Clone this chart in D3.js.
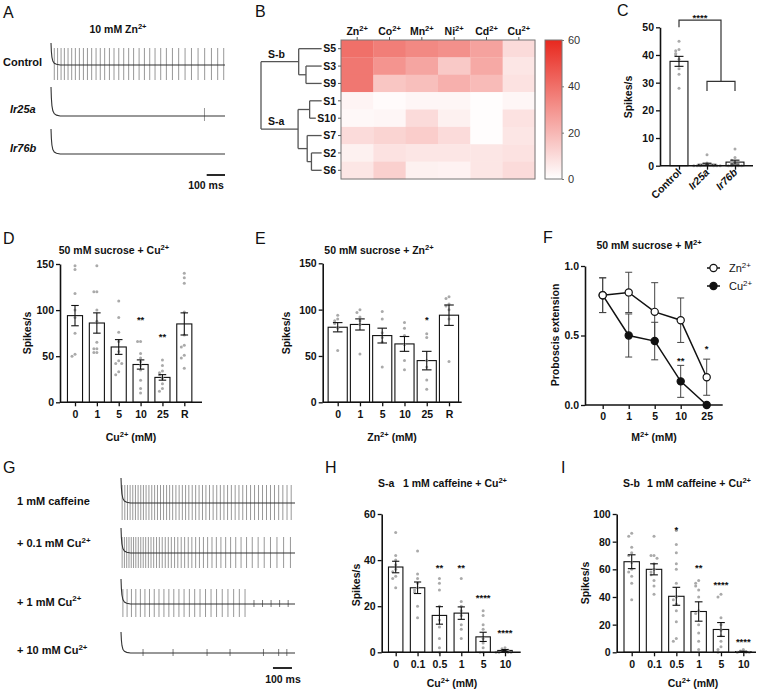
<!DOCTYPE html>
<html><head><meta charset="utf-8">
<script src="https://cdn.jsdelivr.net/npm/d3@7/dist/d3.min.js"></script>
<style>html,body{margin:0;padding:0;background:#fff;}svg{display:block;}</style>
</head><body>
<svg id="fig" width="764" height="691" xmlns="http://www.w3.org/2000/svg"></svg>
<script>
// ================= DATA =================
// Panel A
const aTitle = "10 mM Zn^2+";
const aLabels = ["Control", "Ir25a", "Ir76b"];
const aControlSpikes = [18,36,55,73,93,113,133,155,177,199,222,246,269,293,319,344,370,397,424,451,481,510,539,568,599,630,663,697,732,767,803,839,876,910,943];
const aIr25aSpikes = [838];
const aIr76bSpikes = [];
const artifactShape = [[0,1],[2,0.62],[5,0.36],[10,0.18],[18,0.08],[30,0.03],[50,0]];
const aTraceEnd = 950, aScaleBar = [850, 950];

// Panel B
const heatMetals = ["Zn","Co","Mn","Ni","Cd","Cu"];
const heatSensilla = ["S5","S3","S9","S1","S10","S7","S2","S6"];
const heatValues = [
  [40,36,33,31,26,10],
  [38,30,25,15,24,7],
  [38,16,18,22,19,8],
  [3,1,2.5,2.5,0.5,2.5],
  [2,2.5,10,4,0.5,8],
  [10,12,14,10,0.5,7],
  [4,8,7,7,7,8],
  [7,13,4,3.5,7,10]
];
const colorTicks = [0,20,40,60];
const dendroMerges = [
  {id:"n39", a:"S3", b:"S9", h:1.4},
  {id:"nb", a:"S5", b:"n39", h:2.0, label:"S-b"},
  {id:"n110", a:"S1", b:"S10", h:1.1},
  {id:"n26", a:"S2", b:"S6", h:0.95},
  {id:"n726", a:"S7", b:"n26", h:1.3},
  {id:"na", a:"n110", b:"n726", h:2.05, label:"S-a"},
  {id:"root", a:"nb", b:"na", h:5.1}
];

// Panel C
const cCats = ["Control","Ir25a","Ir76b"];
const cMean = [37.7, 0.5, 1.3];
const cSem = [1.8, 0.4, 0.7];
const cDots = [[45,42,41.5,40.5,40,38.5,35,33,28],[4,1,0.5,0.3,0,0,0,0,0,0],[6,3,2,1.2,0.5,0,0,0,0]];
const cTicks = [0,10,20,30,40,50];

// Panel D
const dCats = ["0","1","5","10","25","R"];
const dMean = [94, 86, 60, 41, 27, 85];
const dSem = [11, 11, 8, 5, 3, 12];
const dDots = [[148,144,118,100,92,75,52,50],[148,120,120,100,88,65,58,58,54,54],[110,92,76,66,55,45,42,42,33,30],[66,66,53,48,44,40,35,24,15,10],[46,40,34,32,30,26,20,15,12],[140,135,129,98,73,62,60,51,48,37]];
const dStars = ["","","","**","**",""];
const dStarAt = [0,0,0,92,74,0];
const dTicks = [0,50,100,150];

// Panel E
const eCats = ["0","1","5","10","25","R"];
const eMean = [81, 84, 72, 63, 45, 94];
const eSem = [5, 6, 8, 8, 10, 11];
const eDots = [[94,90,88,85,80,56],[100,97,92,88,84,52],[98,90,75,70,65,38],[86,80,72,62,45,35],[74,70,45,38,24,14],[114,112,106,104,100,90,44]];
const eStars = ["","","","","*",""];
const eStarAt = [0,0,0,0,91,0];
const eTicks = [0,50,100,150];

// Panel F
const fCats = ["0","1","5","10","25"];
const fZnMean = [0.79,0.81,0.67,0.61,0.20];
const fZnErr = [0.125,0.145,0.21,0.16,0.13];
const fCuMean = [0.79,0.50,0.46,0.17,0.0];
const fCuErr = [0.125,0.155,0.135,0.115,0.0];
const fZnStar = ["","","","","*"], fZnStarAt = [0,0,0,0,0.42];
const fCuStar = ["","","","**",""], fCuStarAt = [0,0,0,0.335,0];
const fTicks = [0,0.5,1.0];
const fLegend = ["Zn^2+","Cu^2+"];

// Panel G
const gLabels = ["1 mM caffeine","+ 0.1 mM Cu^2+","+ 1 mM Cu^2+","+ 10 mM Cu^2+"];
const gSpikes = [
  [6,20,34,48,62,76,90,104,118,132,147,162,177,192,208,224,240,256,272,289,306,323,340,357,375,393,411,429,447,466,485,504,523,542,561,581,601,621,641,661,682,703,724,745,766,787,808,830,852,874,896],
  [6,18,30,42,54,66,78,91,104,117,130,144,158,172,187,202,217,233,249,265,282,299,317,335,354,373,393,413,434,456,479,502,526,551,577,604,632,661,691,722,754,787,821,856,892],
  [10,32,55,78,102,126,150,175,200,226,252,278,305,332,360,388,416,445,474,503,533,563,593,623,653],
  []
];
const gSmallSpikes = [[],[],[700,745,790,835,880],[116,274,453,574,750,830,873]];
const gTraceEnd = 916, gScaleBar = [800, 900];

// Panel H
const hCats = ["0","0.1","0.5","1","5","10"];
const hMean = [37, 28, 16, 17, 6.7, 0.8];
const hSem = [2.5, 2.5, 3.8, 2.7, 2, 0.4];
const hDots = [[52,42,40,38,36,35,33,32,28],[44,34,32,30,28,27,26,20,15],[32,30,27,20,14,11,6,2,0],[32,22,20,18,16,12,10,6],[18,16,12,10,6,4,2,0,0],[2,1.5,1,0.5,0,0,0,0]];
const hStars = ["","","**","**","****","****"];
const hStarAt = [0,0,37.5,37.5,24.5,9.3];
const hTicks = [0,20,40,60];

// Panel I
const iCats = ["0","0.1","0.5","1","5","10"];
const iMean = [65.5, 60, 40.5, 29.5, 16.5, 0.5];
const iSem = [5, 4, 6.5, 7, 5, 0.3];
const iDots = [[86,84,76,72,70,65,60,58,55,50,38],[84,70,70,68,64,60,58,56,52,48,42],[88,78,72,64,60,50,40,38,35,30,22,10,8],[52,50,48,45,40,30,28,20,14,8,2],[42,40,25,20,16,12,8,4,2,0],[2,1,0,0,0]];
const iStars = ["","","*","**","****","****"];
const iStarAt = [0,0,90,63,50.5,9.4];
const iTicks = [0,20,40,60,80,100];

// ================= RENDER =================
const svg = d3.select('#fig');
const FONT = '"Liberation Sans", Arial, Helvetica, sans-serif';
const INK = '#111';
svg.append('rect').attr('width',764).attr('height',691).attr('fill','#fff');

function rich(t, str, fs){
  const parts = str.split(/(\^\S+)/);
  let up = false;
  for (const p of parts){
    if (p === '') continue;
    if (p[0] === '^'){ t.append('tspan').attr('dy', -fs*0.4).attr('font-size', fs*0.72).text(p.slice(1)); up = true; }
    else { const s = t.append('tspan').text(p); if (up){ s.attr('dy', fs*0.4); up = false; } }
  }
}
function txt(x, y, str, o = {}){
  const fs = o.fs || 10.5;
  const t = svg.append('text').attr('x',x).attr('y',y).attr('font-family',FONT).attr('font-size',fs)
    .attr('font-weight', o.w || 'bold').attr('fill', o.fill || INK).attr('text-anchor', o.anchor || 'start');
  if (o.italic) t.attr('font-style','italic');
  if (o.rot) t.attr('transform', `rotate(${o.rot},${x},${y})`);
  rich(t, str, fs);
  return t;
}
function styleAxis(g, fs, bold = true){
  g.attr('font-family', FONT).attr('font-size', fs);
  g.selectAll('text').attr('font-size', fs).attr('font-weight', bold ? 'bold' : 'normal').attr('fill', INK).attr('font-family', FONT);
  g.selectAll('line').attr('stroke', INK).attr('stroke-width', 1.3);
  g.select('.domain').attr('stroke', INK).attr('stroke-width', 1.6);
}

// ---- panel letters
[['A',3,18],['B',255,17],['C',617,16],['D',3,244],['E',255,244],['F',543,243],['G',3,473],['H',325,473],['I',561,473]]
  .forEach(([l,x,y]) => txt(x, y, l, {fs:16, w:'normal'}));

// ---- traces
function drawTrace(xs, y0, spikes, up, down, small, sUp, sDown, artH, tEnd){
  const g = svg.append('g');
  g.selectAll('line.sp').data(spikes).join('line').attr('class','sp')
    .attr('x1', d => xs(d)).attr('x2', d => xs(d)).attr('y1', y0 - up).attr('y2', y0 + down)
    .attr('stroke', '#8c8c8c').attr('stroke-width', 0.9);
  g.selectAll('line.ss').data(small).join('line').attr('class','ss')
    .attr('x1', d => xs(d)).attr('x2', d => xs(d)).attr('y1', y0 - sUp).attr('y2', y0 + sDown)
    .attr('stroke', '#6a6a6a').attr('stroke-width', 0.9);
  const pts = artifactShape.map(([t,f]) => [t, artH*f]).concat([[tEnd, 0]]);
  g.append('path').attr('d', d3.line().x(d => xs(d[0])).y(d => y0 - d[1])(pts))
    .attr('fill','none').attr('stroke','#333').attr('stroke-width',1.1);
}

// Panel A
txt(118, 33, aTitle, {anchor:'middle'});
const xsA = d3.scaleLinear().domain([0, aTraceEnd]).range([51, 225]);
drawTrace(xsA, 65, aControlSpikes, 17, 15, [], 0, 0, 22, aTraceEnd);
drawTrace(xsA, 116, aIr25aSpikes, 8, 5, [], 0, 0, 29, aTraceEnd);
drawTrace(xsA, 154, aIr76bSpikes, 0, 0, [], 0, 0, 25, aTraceEnd);
txt(3, 65.5, aLabels[0], {fs:11});
txt(10, 113, aLabels[1], {fs:11, italic:true});
txt(10, 152, aLabels[2], {fs:11, italic:true});
svg.append('line').attr('x1', xsA(aScaleBar[0])).attr('x2', xsA(aScaleBar[1])).attr('y1',175).attr('y2',175).attr('stroke',INK).attr('stroke-width',1.8);
txt(206, 189, "100 ms", {anchor:'middle'});

// Panel G
const xsG = d3.scaleLinear().domain([0, gTraceEnd]).range([121, 295]);
const gBase = [503, 553, 604, 653];
const gAmp = [[18,17],[16,15],[15,13],[0,0]];
const gArt = [25, 25, 25, 21];
gSpikes.forEach((sp, i) => drawTrace(xsG, gBase[i], sp, gAmp[i][0], gAmp[i][1], gSmallSpikes[i], 4, 3, gArt[i], gTraceEnd));
const gLabY = [504.5, 547, 605.5, 654];
gLabels.forEach((l, i) => txt(17, gLabY[i], l, {fs:11}));
svg.append('line').attr('x1', xsG(gScaleBar[0])).attr('x2', xsG(gScaleBar[1])).attr('y1',668).attr('y2',668).attr('stroke',INK).attr('stroke-width',1.8);
txt(283, 683, "100 ms", {anchor:'middle'});

// ---- Panel B heatmap
const hx = d3.scaleBand().domain(heatMetals).range([341, 535]);
const hy = d3.scaleBand().domain(heatSensilla).range([40, 179]);
const hcol = d3.scaleLinear().domain([0, 60]).range(['#ffffff', '#e8281e']);
const cells = [];
heatValues.forEach((row, i) => row.forEach((v, j) => cells.push({s: heatSensilla[i], m: heatMetals[j], v})));
svg.append('g').selectAll('rect').data(cells).join('rect')
  .attr('x', d => hx(d.m)).attr('y', d => hy(d.s)).attr('width', hx.bandwidth() + 0.3).attr('height', hy.bandwidth() + 0.3)
  .attr('fill', d => hcol(d.v));
svg.append('rect').attr('x', 341).attr('y', 40).attr('width', 194).attr('height', 139).attr('fill','none').attr('stroke','#777').attr('stroke-width',1);
const topAx = svg.append('g').attr('transform','translate(0,40)').call(d3.axisTop(hx).tickSize(3).tickFormat(''));
topAx.select('.domain').remove(); topAx.selectAll('line').attr('stroke','#555');
heatMetals.forEach(m => txt(hx(m) + hx.bandwidth()/2, 35, m + "^2+", {anchor:'middle', fs:10.5}));
const leftAx = svg.append('g').attr('transform','translate(341,0)').call(d3.axisLeft(hy).tickSize(3).tickFormat(''));
leftAx.select('.domain').remove(); leftAx.selectAll('line').attr('stroke','#555');
const leafEnd = {};
heatSensilla.forEach(s => {
  const t = txt(336, hy(s) + hy.bandwidth()/2 + 3.8, s, {anchor:'end', fs:10.5});
  leafEnd[s] = t.node().getBBox().x - 1.5;
});
// colorbar
const defs = svg.append('defs');
const grad = defs.append('linearGradient').attr('id','cbar').attr('x1',0).attr('y1',1).attr('x2',0).attr('y2',0);
d3.range(0, 61, 10).forEach(v => grad.append('stop').attr('offset', v/60).attr('stop-color', hcol(v)));
svg.append('rect').attr('x',545).attr('y',40).attr('width',17).attr('height',139).attr('fill','url(#cbar)').attr('stroke','#777').attr('stroke-width',1);
const cbY = d3.scaleLinear().domain([0,60]).range([179,40]);
const cbAx = svg.append('g').attr('transform','translate(562,0)').call(d3.axisRight(cbY).tickValues(colorTicks).tickSize(2).tickPadding(4));
cbAx.select('.domain').remove();
cbAx.selectAll('line').attr('stroke','#777');
cbAx.selectAll('text').attr('font-family',FONT).attr('font-size',11).attr('fill','#333');
// dendrogram
const dx = d3.scaleLinear().domain([0, 5.1]).range([323, 261]);
const nodeY = {}, nodeX = {};
heatSensilla.forEach(s => { nodeY[s] = hy(s) + hy.bandwidth()/2; nodeX[s] = leafEnd[s]; });
const dg = svg.append('g').attr('stroke','#555').attr('stroke-width',1.3).attr('fill','none');
dendroMerges.forEach(m => {
  const x = dx(m.h);
  nodeY[m.id] = (nodeY[m.a] + nodeY[m.b]) / 2; nodeX[m.id] = x;
  dg.append('line').attr('x1',x).attr('x2',x).attr('y1',nodeY[m.a]).attr('y2',nodeY[m.b]);
  [m.a, m.b].forEach(c => dg.append('line').attr('x1',x).attr('x2',nodeX[c]).attr('y1',nodeY[c]).attr('y2',nodeY[c]));
});
dendroMerges.filter(m => m.label).forEach(m => txt(dx(5.1) + 7, nodeY[m.id] - 4, m.label, {fs:10.5}));

// ---- bar panels
function barPanel(p){
  const y = d3.scaleLinear().domain([0, p.yMax]).range([p.y0, p.yTop]);
  const x = d3.scalePoint().domain(p.cats).range([p.c0, p.c1]);
  const bw = x.step() * p.bwf;
  const g = svg.append('g');
  g.selectAll('rect').data(p.mean).join('rect')
    .attr('x', (d,i) => x(p.cats[i]) - bw/2).attr('y', d => y(d)).attr('width', bw).attr('height', d => y(0) - y(d))
    .attr('fill','#fff').attr('stroke',INK).attr('stroke-width',1.1);
  const dotData = [];
  p.dots.forEach((arr, i) => {
    const placed = [];
    arr.slice().sort((a,b) => b - a).forEach(v => {
      const py = y(v);
      const k = placed.filter(q => Math.abs(q - py) < 3.2).length;
      placed.push(py);
      const off = k === 0 ? 0 : (k % 2 === 1 ? -1 : 1) * Math.ceil(k/2) * p.jit;
      dotData.push({cx: x(p.cats[i]) + off, cy: py});
    });
  });
  g.selectAll('circle').data(dotData).join('circle').attr('cx', d => d.cx).attr('cy', d => d.cy).attr('r', 1.5).attr('fill','#aaaaaa');
  const cw = bw * 0.5;
  const eg = g.append('g').attr('stroke',INK).attr('stroke-width',1.1);
  p.mean.forEach((m, i) => {
    const cx = x(p.cats[i]), s = p.sem[i];
    eg.append('line').attr('x1',cx).attr('x2',cx).attr('y1',y(m+s)).attr('y2',y(Math.max(0,m-s)));
    eg.append('line').attr('x1',cx-cw/2).attr('x2',cx+cw/2).attr('y1',y(m+s)).attr('y2',y(m+s));
    if (m - s > 0) eg.append('line').attr('x1',cx-cw/2).attr('x2',cx+cw/2).attr('y1',y(m-s)).attr('y2',y(m-s));
  });
  if (p.stars) p.stars.forEach((s, i) => { if (s) txt(x(p.cats[i]), y(p.starAt[i]) + 5.5, s, {anchor:'middle', fs:9.5}); });
  const ya = svg.append('g').attr('transform', `translate(${p.x0},0)`)
    .call(d3.axisLeft(y).tickValues(p.yticks).tickSize(4).tickSizeOuter(0).tickPadding(2));
  styleAxis(ya, 10.5);
  const xa = svg.append('g').attr('transform', `translate(0,${p.y0})`)
    .call(d3.axisBottom(x).tickSize(4).tickSizeOuter(0).tickPadding(4));
  xa.select('.domain').remove();
  styleAxis(xa, 10.5);
  if (p.hideX) xa.selectAll('text').remove();
  svg.append('line').attr('x1', p.x0).attr('x2', p.x1).attr('y1', p.y0).attr('y2', p.y0).attr('stroke',INK).attr('stroke-width',1.6);
  if (p.ylab) txt(p.ylab[0], p.ylab[1], "Spikes/s", {anchor:'middle', rot:-90, fs:10.5});
  if (p.xlab) txt(p.xlab[1], p.xlab[2], p.xlab[0], {anchor:'middle', fs:10.5});
  return {x, y};
}

// C
const C = barPanel({cats:cCats, mean:cMean, sem:cSem, dots:cDots, yMax:50, yticks:cTicks, x0:660, x1:753, y0:165.7, yTop:27.3, c0:679, c1:735, bwf:0.64, jit:3.3, hideX:true, ylab:[632,97]});
cCats.forEach((c, i) => txt(C.x(c) + 3, 173, c, {anchor:'end', rot:-45, fs:10.5, italic: i > 0}));
const br = svg.append('g').attr('stroke', '#333').attr('stroke-width', 1.2).attr('fill','none');
const cMid = (C.x('Ir25a') + C.x('Ir76b')) / 2;
br.append('path').attr('d', `M${C.x('Control')},${C.y(50)}V${C.y(52.6)}H${cMid}V${C.y(30.5)}`);
br.append('path').attr('d', `M${C.x('Ir25a')},${C.y(27)}V${C.y(30.5)}H${C.x('Ir76b')}V${C.y(27)}`);
txt((C.x('Control') + cMid)/2, C.y(54.2) + 5.5, "****", {anchor:'middle', fs:9.5});

// D
barPanel({cats:dCats, mean:dMean, sem:dSem, dots:dDots, stars:dStars, starAt:dStarAt, yMax:150, yticks:dTicks, x0:60, x1:202, y0:402.3, yTop:264, c0:75, c1:184.3, bwf:0.69, jit:3, ylab:[31,333], xlab:["Cu^2+ (mM)",131,441]});
txt(114, 254, "50 mM sucrose + Cu^2+", {anchor:'middle', fs:10.5});
// E
barPanel({cats:eCats, mean:eMean, sem:eSem, dots:eDots, stars:eStars, starAt:eStarAt, yMax:150, yticks:eTicks, x0:322.7, x1:461.7, y0:402.3, yTop:263.3, c0:337.7, c1:449, bwf:0.86, jit:3, ylab:[290,333], xlab:["Zn^2+ (mM)",392,441]});
txt(379, 254, "50 mM sucrose + Zn^2+", {anchor:'middle', fs:10.5});
// H
barPanel({cats:hCats, mean:hMean, sem:hSem, dots:hDots, stars:hStars, starAt:hStarAt, yMax:60, yticks:hTicks, x0:381.7, x1:520.7, y0:652.3, yTop:514, c0:395.7, c1:505, bwf:0.66, jit:3, ylab:[360,585], xlab:["Cu^2+ (mM)",452,687]});
txt(378, 487, "S-a", {fs:10.5});
txt(403, 487, "1 mM caffeine + Cu^2+", {fs:10.5});
// I
barPanel({cats:iCats, mean:iMean, sem:iSem, dots:iDots, stars:iStars, starAt:iStarAt, yMax:100, yticks:iTicks, x0:616.7, x1:756, y0:652.3, yTop:514, c0:631.7, c1:743.3, bwf:0.69, jit:3, ylab:[589,583], xlab:["Cu^2+ (mM)",693,687]});
txt(623, 487, "S-b", {fs:10.5});
txt(647, 487, "1 mM caffeine + Cu^2+", {fs:10.5});

// ---- Panel F
(function(){
  const y = d3.scaleLinear().domain([0, 1]).range([405, 266]);
  const x = d3.scalePoint().domain(fCats).range([602.7, 706.7]);
  const g = svg.append('g');
  const series = [
    {m: fCuMean, e: fCuErr, fill: INK},
    {m: fZnMean, e: fZnErr, fill: '#fff'}
  ];
  const eg = g.append('g').attr('stroke','#444').attr('stroke-width',1);
  series.forEach(s => s.m.forEach((v, i) => {
    if (s.e[i] <= 0) return;
    const cx = x(fCats[i]);
    eg.append('line').attr('x1',cx).attr('x2',cx).attr('y1',y(v + s.e[i])).attr('y2',y(v - s.e[i]));
    [v + s.e[i], v - s.e[i]].forEach(w => eg.append('line').attr('x1',cx-3.5).attr('x2',cx+3.5).attr('y1',y(w)).attr('y2',y(w)));
  }));
  series.forEach(s => {
    g.append('path').attr('d', d3.line().x((d,i) => x(fCats[i])).y(d => y(d))(s.m)).attr('fill','none').attr('stroke',INK).attr('stroke-width',1.5);
  });
  series.forEach(s => {
    g.selectAll(null).data(s.m).join('circle').attr('cx', (d,i) => x(fCats[i])).attr('cy', d => y(d)).attr('r', 3.6)
      .attr('fill', s.fill).attr('stroke', INK).attr('stroke-width', 1.2);
  });
  fZnStar.forEach((s,i) => { if (s) txt(x(fCats[i]), y(fZnStarAt[i]) + 5.5, s, {anchor:'middle', fs:9.5}); });
  fCuStar.forEach((s,i) => { if (s) txt(x(fCats[i]), y(fCuStarAt[i]) + 5.5, s, {anchor:'middle', fs:9.5}); });
  const ya = svg.append('g').attr('transform','translate(585,0)').call(d3.axisLeft(y).tickValues(fTicks).tickFormat(d3.format('.1f')).tickSize(4).tickSizeOuter(0).tickPadding(2));
  styleAxis(ya, 10.5);
  const xa = svg.append('g').attr('transform','translate(0,405)').call(d3.axisBottom(x).tickSize(4).tickSizeOuter(0).tickPadding(4));
  xa.select('.domain').remove(); styleAxis(xa, 10.5);
  svg.append('line').attr('x1',585).attr('x2',722.7).attr('y1',405).attr('y2',405).attr('stroke',INK).attr('stroke-width',1.6);
  txt(559, 335, "Proboscis extension", {anchor:'middle', rot:-90, fs:10.5});
  txt(654, 441, "M^2+ (mM)", {anchor:'middle', fs:10.5});
  txt(649, 249, "50 mM sucrose + M^2+", {anchor:'middle', fs:10.5});
  // legend
  const lg = svg.append('g');
  [['#fff',268],[INK,286]].forEach(([f,yy], i) => {
    lg.append('line').attr('x1',707).attr('x2',720).attr('y1',yy).attr('y2',yy).attr('stroke',INK).attr('stroke-width',1.5);
    lg.append('circle').attr('cx',713.5).attr('cy',yy).attr('r',3.6).attr('fill',f).attr('stroke',INK).attr('stroke-width',1.2);
    txt(729, yy + 4, fLegend[i], {fs:11, w:'normal'});
  });
})();
</script>
</body></html>
